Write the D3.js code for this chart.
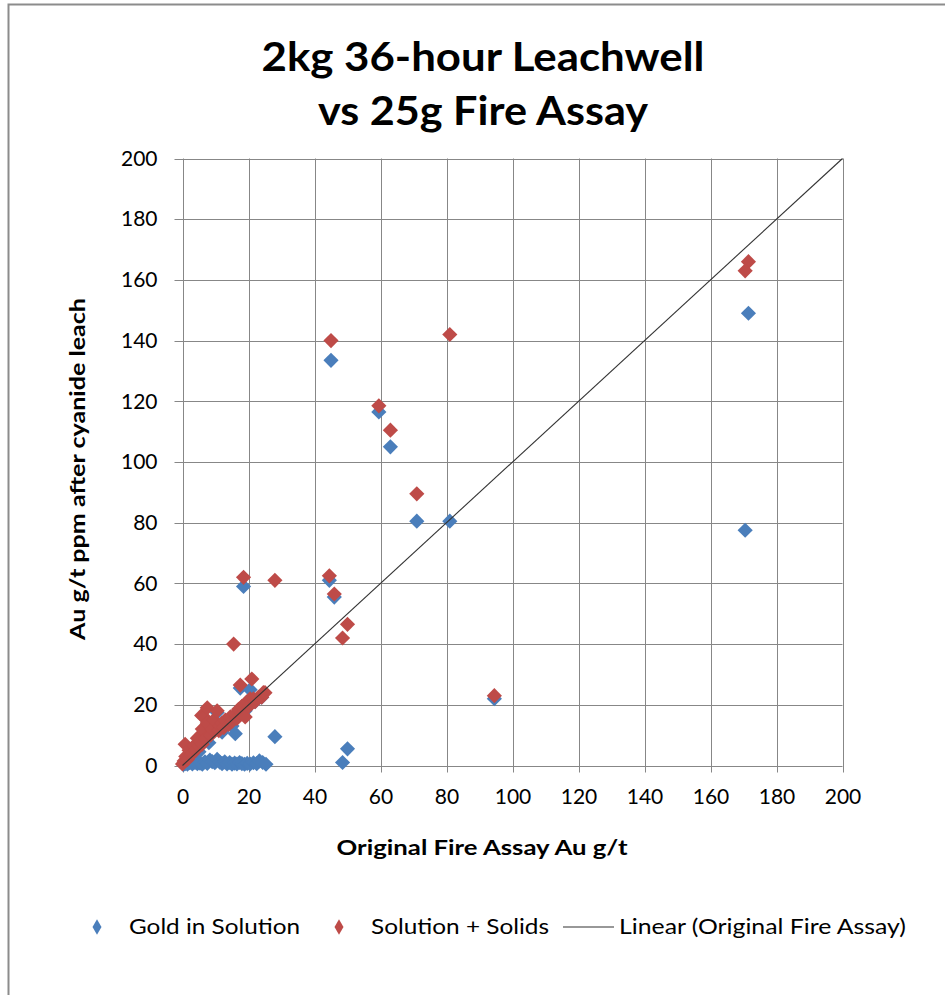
<!DOCTYPE html>
<html>
<head>
<meta charset="utf-8">
<script src="https://cdn.jsdelivr.net/npm/d3@7"></script>
<style>
  html, body { margin: 0; padding: 0; background: #fff; }
  svg { display: block; }
  text { font-family: Lato, "Open Sans", "DejaVu Sans", sans-serif; fill: #000; }
</style>
</head>
<body>
<svg id="chart" width="945" height="995"></svg>
<script>
// ---------- DATA ----------
const titleLines = ["2kg 36-hour Leachwell", "vs 25g Fire Assay"];
const xAxisTitle = "Original Fire Assay Au g/t";
const yAxisTitle = "Au g/t ppm after cyanide leach";
const xTicks = [0, 20, 40, 60, 80, 100, 120, 140, 160, 180, 200];
const yTicks = [0, 20, 40, 60, 80, 100, 120, 140, 160, 180, 200];
const seriesNames = ["Gold in Solution", "Solution + Solids", "Linear (Original Fire Assay)"];

// Gold in Solution: [fire assay, leach]
const goldInSolution = [
  [171.5, 149], [170.5, 77.5], [45, 133.5], [59.5, 116.5], [63, 105], [71, 80.5],
  [81, 80.5], [94.5, 22], [44.5, 61], [46, 55.5], [48.5, 1], [50, 5.5], [28, 9.5],
  [18.5, 59], [17.5, 25.5], [20.5, 25], [16, 10.5], [10.5, 17.5],
  [2, 2], [5, 4.5], [8, 7.5], [12, 11], [15, 13], [19, 18], [22, 21], [24, 22.5],
  [0.3, 0.3], [0.8, 0.6], [1.5, 0.4], [2.2, 0.9], [3, 0.5], [3.8, 1.0], [4.5, 0.6],
  [5.3, 0.8], [6, 0.4], [6.8, 1.2], [7.5, 0.7], [8.3, 1.8], [9, 1.3], [9.8, 0.9],
  [10.5, 2.0], [11.3, 1.1], [12, 0.6], [12.8, 1.2], [13.5, 0.5], [14.3, 1], [15, 0.4],
  [15.8, 0.8], [16.5, 0.5], [17.3, 1.0], [18, 0.6], [18.8, 0.4], [19.6, 0.7],
  [20.5, 0.5], [21.5, 0.9], [22.5, 0.6], [23.3, 1.5], [24.3, 1], [25.3, 0.4]
];

// Solution + Solids: [fire assay, leach]
const solutionPlusSolids = [
  [171.5, 166], [170.5, 163], [45, 140], [59.5, 118.5], [63, 110.5], [71, 89.5],
  [81, 142], [94.5, 23], [44.5, 62.5], [46, 56.5], [48.5, 42], [50, 46.5],
  [28, 61], [18.5, 62], [15.5, 40], [17.5, 26.5], [21, 28.5],
  [0, 0.5], [0.5, 1.5], [0.8, 7], [1, 3], [1.5, 2], [2, 5], [2.5, 3.5], [3, 4],
  [3.5, 6.5], [4, 5], [4.5, 9], [5, 6.5], [5.5, 8], [6, 7], [6, 12], [5.8, 16.5],
  [6.5, 16], [7, 9], [7.5, 14], [7.5, 19], [8.5, 10], [9, 12], [9.5, 15],
  [10.5, 18], [11, 11.5], [11.5, 13], [12, 14], [12.5, 12.5], [13, 15], [14, 13.5],
  [14.5, 16], [15, 14.5], [16, 17], [16.5, 15.5], [17, 18.5], [18, 17], [18, 19.5],
  [19, 16], [19.5, 21], [20, 19.5], [20.5, 22], [21, 20.5], [21.5, 22], [22, 21],
  [23, 22.5], [24, 22.5], [24.5, 24], [25, 24]
];

// Linear trend line (Original Fire Assay): y = x
const trendLine = [[0, 0], [200, 200]];

// ---------- DRAW ----------
const svg = d3.select("#chart");
const blue = "#4a7ebb", red = "#be4b48", gridCol = "#878787";

// outer chart frame
svg.append("rect").attr("x", 8.5).attr("y", 4.5).attr("width", 1000).attr("height", 1000)
  .attr("fill", "#fff").attr("stroke", "#8c8c8c").attr("stroke-width", 2);

const x = d3.scaleLinear().domain([0, 200]).range([182.5, 842.5]);
const y = d3.scaleLinear().domain([0, 200]).range([765.5, 158.5]);

// gridlines
const grid = svg.append("g");
grid.selectAll("line.v").data(xTicks).join("line")
  .attr("x1", d => Math.round(x(d)) + 0.5).attr("x2", d => Math.round(x(d)) + 0.5)
  .attr("y1", y(200)).attr("y2", y(0) + 7)
  .attr("stroke", gridCol).attr("stroke-width", 1);
grid.selectAll("line.h").data(yTicks).join("line")
  .attr("x1", x(0) - 8).attr("x2", x(200))
  .attr("y1", d => Math.round(y(d)) + 0.5).attr("y2", d => Math.round(y(d)) + 0.5)
  .attr("stroke", gridCol).attr("stroke-width", 1);

// axis labels via d3 axes
const xAxis = svg.append("g").attr("transform", `translate(0,${y(0)})`)
  .call(d3.axisBottom(x).tickValues(xTicks).tickSize(0).tickPadding(24));
xAxis.select(".domain").remove();
xAxis.selectAll("text").style("font-family", "Lato, sans-serif").style("font-size", "21px").attr("fill", "#000");

const yAxis = svg.append("g").attr("transform", `translate(${x(0)},0)`)
  .call(d3.axisLeft(y).tickValues(yTicks).tickSize(0).tickPadding(25));
yAxis.select(".domain").remove();
yAxis.selectAll("text").style("font-family", "Lato, sans-serif").style("font-size", "21px").attr("fill", "#000");

// markers
const diamond = d3.symbol().type(d3.symbolSquare).size(115)();
svg.append("g").selectAll("path").data(goldInSolution).join("path")
  .attr("d", diamond)
  .attr("transform", d => `translate(${x(d[0])},${y(d[1])}) rotate(45)`)
  .attr("fill", blue);
svg.append("g").selectAll("path").data(solutionPlusSolids).join("path")
  .attr("d", diamond)
  .attr("transform", d => `translate(${x(d[0])},${y(d[1])}) rotate(45)`)
  .attr("fill", red);

// trend line
svg.append("path").datum(trendLine)
  .attr("d", d3.line().x(d => x(d[0])).y(d => y(d[1])))
  .attr("stroke", "#333").attr("stroke-width", 1.1).attr("fill", "none");

// title
svg.append("text").attr("x", 483).attr("y", 71).attr("text-anchor", "middle")
  .style("font-size", "41px").style("font-weight", "bold")
  .attr("textLength", 443).attr("lengthAdjust", "spacingAndGlyphs")
  .text(titleLines[0]);
svg.append("text").attr("x", 483).attr("y", 125).attr("text-anchor", "middle")
  .style("font-size", "41px").style("font-weight", "bold")
  .attr("textLength", 330).attr("lengthAdjust", "spacingAndGlyphs")
  .text(titleLines[1]);

// axis titles
svg.append("text").attr("x", 482).attr("y", 855).attr("text-anchor", "middle")
  .style("font-size", "21px").style("font-weight", "bold")
  .attr("textLength", 291).attr("lengthAdjust", "spacingAndGlyphs")
  .text(xAxisTitle);
svg.append("text").attr("transform", "translate(85,469) rotate(-90)").attr("text-anchor", "middle")
  .style("font-size", "21px").style("font-weight", "bold")
  .attr("textLength", 342).attr("lengthAdjust", "spacingAndGlyphs")
  .text(yAxisTitle);

// legend
const legY = 927;
const legDiamond = d3.symbol().type(d3.symbolDiamond).size(70)();
svg.append("path").attr("d", legDiamond).attr("transform", `translate(97,${legY})`).attr("fill", blue);
svg.append("text").attr("x", 129).attr("y", legY + 7).style("font-size", "21px")
  .attr("textLength", 171).attr("lengthAdjust", "spacingAndGlyphs").text(seriesNames[0]);
svg.append("path").attr("d", legDiamond).attr("transform", `translate(339,${legY})`).attr("fill", red);
svg.append("text").attr("x", 371).attr("y", legY + 7).style("font-size", "21px")
  .attr("textLength", 178).attr("lengthAdjust", "spacingAndGlyphs").text(seriesNames[1]);
svg.append("line").attr("x1", 563).attr("x2", 614).attr("y1", legY).attr("y2", legY)
  .attr("stroke", "#333").attr("stroke-width", 1.2);
svg.append("text").attr("x", 619).attr("y", legY + 7).style("font-size", "21px")
  .attr("textLength", 287).attr("lengthAdjust", "spacingAndGlyphs").text(seriesNames[2]);
</script>
</body>
</html>
